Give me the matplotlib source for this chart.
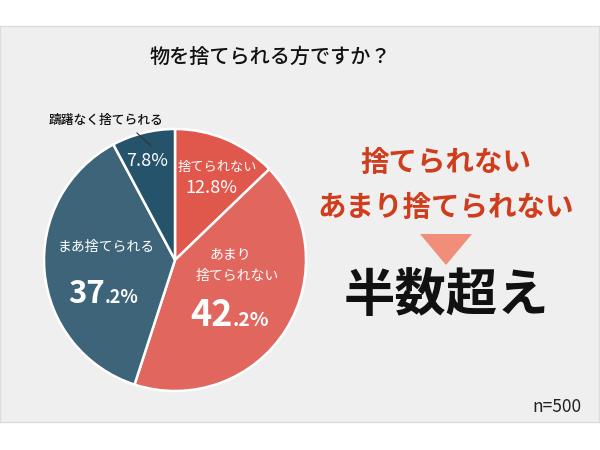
import matplotlib
matplotlib.use("Agg")
import matplotlib.pyplot as plt
from matplotlib.patches import Rectangle, Polygon

plt.rcParams['font.family'] = ['Noto Sans CJK JP', 'DejaVu Sans']

# survey answers, clockwise from 12 o'clock
labels = ['捨てられない', 'あまり捨てられない', 'まあ捨てられる', '躊躇なく捨てられる']
values = [12.8, 42.2, 37.2, 7.8]
colors = ['#e0574b', '#e1675e', '#3e6479', '#24536b']
title = '物を捨てられる方ですか？'
n_text = 'n=500'

fig = plt.figure(figsize=(6, 4.5), dpi=100)

# background panel, pixel coordinates
bg = fig.add_axes([0, 0, 1, 1])
bg.set_xlim(0, 600)
bg.set_ylim(450, 0)
bg.axis('off')
bg.add_patch(Rectangle((0, 26), 599, 396, facecolor='#efefef',
                       edgecolor='#dcdcdc', lw=1))
bg.text(270, 57, title, ha='center', va='center', fontsize=14.5,
        color='#111111', fontweight='medium')
bg.text(582, 407, n_text, ha='right', va='center', fontsize=12.5,
        color='#222222')

# right-hand message
red = '#cf3d1d'
bg.text(446, 163, '捨てられない', ha='center', va='center', fontsize=20.5,
        color=red, fontweight='bold')
bg.text(446, 208, 'あまり捨てられない', ha='center', va='center', fontsize=20.5,
        color=red, fontweight='bold')
bg.add_patch(Polygon([(420, 234), (472, 234), (446, 265)], closed=True,
                     facecolor='#f08e7a', edgecolor='none'))
bg.text(446, 295, '半数超え', ha='center', va='center', fontsize=37,
        color='#111111', fontweight='bold')

# pie
ax = fig.add_axes([44 / 600, (450 - 391) / 450, 262 / 600, 262 / 450])
ax.pie(values, colors=colors, startangle=90, counterclock=False, radius=1,
       wedgeprops=dict(edgecolor='white', linewidth=1.8))
ax.set_xlim(-1, 1)
ax.set_ylim(-1, 1)
ax.set_aspect('equal')


def px(x, y):
    # pixel position -> pie data coordinates
    return (x - 175) / 131, (260 - y) / 131


wt = dict(color='white', ha='center', va='center')
ax.text(*px(217, 168), labels[0], fontsize=9.5, **wt)
ax.text(*px(211, 188), f'{values[0]}%', fontsize=13, **wt)
ax.text(*px(230, 255), 'あまり', fontsize=10, **wt)
ax.text(*px(237, 276), '捨てられない', fontsize=10, **wt)
ax.text(*px(233, 326), f'{int(values[1])}', fontsize=26, fontweight='bold',
        color='white', ha='right', va='baseline')
ax.text(*px(233, 326), f'.{str(values[1]).split(".")[1]}%', fontsize=14,
        fontweight='bold', color='white', ha='left', va='baseline')
ax.text(*px(106, 247), labels[2], fontsize=10, **wt)
ax.text(*px(105, 303), f'{int(values[2])}', fontsize=22.5, fontweight='bold',
        color='white', ha='right', va='baseline')
ax.text(*px(105, 303), f'.{str(values[2]).split(".")[1]}%', fontsize=13,
        fontweight='bold', color='white', ha='left', va='baseline')
ax.text(*px(147, 161), f'{values[3]}%', fontsize=13, **wt)
ax.text(*px(106, 120), labels[3], fontsize=9.2, color='#111111',
        ha='center', va='center', fontweight='medium', clip_on=False)
ax.plot(*zip(px(137, 133), px(151, 146)), color='#333333', lw=0.8,
        clip_on=False)

fig.savefig('out.png', dpi=100)
